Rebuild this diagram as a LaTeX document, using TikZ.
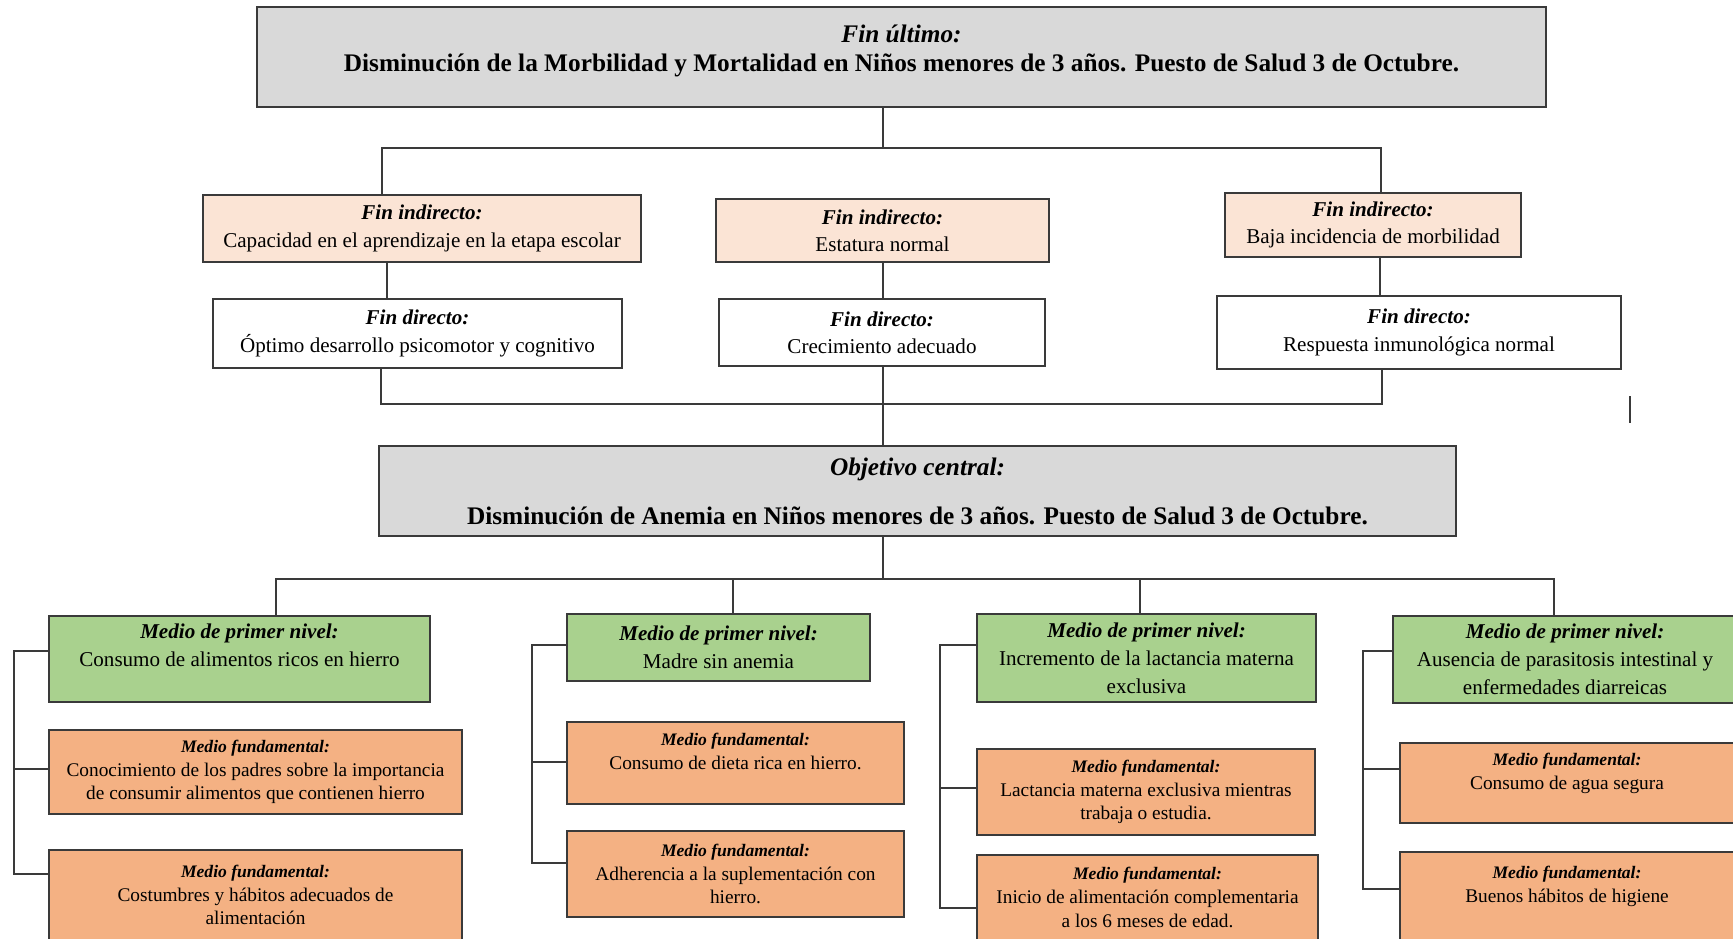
\documentclass[tikz,border=0pt]{standalone}
\usepackage{fontspec}
\setmainfont{Liberation Serif}
\usetikzlibrary{positioning}
\definecolor{gris}{HTML}{D9D9D9}
\definecolor{durazno}{HTML}{FBE4D5}
\definecolor{verde}{HTML}{A9D18E}
\definecolor{naranja}{HTML}{F4B183}
\definecolor{borde}{HTML}{3A3A3A}
\newcommand{\rotulo}[1]{{\bfseries\itshape #1}}
\newcommand{\rotulof}[1]{{\fontsize{10}{12}\selectfont\bfseries\itshape #1}}
\begin{document}
\begin{tikzpicture}[x=0.02cm,y=-0.02cm,
	caja/.style={draw=borde,line width=0.85pt,align=center,inner sep=2pt},
	central/.style={caja,fill=gris,font=\fontsize{14.4}{17}\selectfont},
	indirecto/.style={caja,fill=durazno,font=\fontsize{12}{15.5}\selectfont},
	directo/.style={caja,fill=white,font=\fontsize{12}{15.5}\selectfont},
	primer/.style={caja,fill=verde,font=\fontsize{12}{16}\selectfont},
	fundam/.style={caja,fill=naranja,font=\fontsize{11}{13.5}\selectfont},
	linea/.style={draw=borde,line width=0.8pt}]
	\useasboundingbox (0,0) rectangle (1733,939);
	% fin ultimo
	\node[central,minimum width=25.78cm,minimum height=2cm] (fu) at (901.5,57)
		{\rotulo{Fin último:}\\ \bfseries Disminución de la Morbilidad y Mortalidad en Niños menores de 3 años. Puesto de Salud 3 de Octubre.\\[-7pt]\mbox{}};
	% fines indirectos y directos
	\node[indirecto,minimum width=8.76cm,minimum height=1.34cm] (fiL) at (422,228.5) {\rotulo{Fin indirecto:}\\ Capacidad en el aprendizaje en la etapa escolar};
	\node[indirecto,minimum width=6.66cm,minimum height=1.26cm] (fiM) at (882.5,230.5) {\rotulo{Fin indirecto:}\\ Estatura normal};
	\node[indirecto,minimum width=5.92cm,minimum height=1.28cm] (fiR) at (1373,225) {\rotulo{Fin indirecto:}\\ Baja incidencia de morbilidad};
	\node[directo,minimum width=8.18cm,minimum height=1.38cm] (fdL) at (417.5,333.5) {\rotulo{Fin directo:}\\ Óptimo desarrollo psicomotor y cognitivo};
	\node[directo,minimum width=6.52cm,minimum height=1.34cm] (fdM) at (882,332.5) {\rotulo{Fin directo:}\\ Crecimiento adecuado};
	\node[directo,minimum width=8.08cm,minimum height=1.46cm] (fdR) at (1419,332.5) {\rotulo{Fin directo:}\\ Respuesta inmunológica normal};
	% objetivo central
	\node[central,minimum width=21.54cm,minimum height=1.8cm] (oc) at (917.5,491)
		{\rotulo{Objetivo central:}\\[11pt] \bfseries Disminución de Anemia en Niños menores de 3 años. Puesto de Salud 3 de Octubre.};
	% medios de primer nivel
	\node[primer,minimum width=7.62cm,minimum height=1.72cm] (m1) at (239.5,659) {\rotulo{Medio de primer nivel:}\\ Consumo de alimentos ricos en hierro\\ \mbox{}};
	\node[primer,minimum width=6.06cm,minimum height=1.34cm] (m2) at (718.5,647.5) {\rotulo{Medio de primer nivel:}\\ Madre sin anemia};
	\node[primer,minimum width=6.78cm,minimum height=1.76cm] (m3) at (1146.5,658) {\rotulo{Medio de primer nivel:}\\ Incremento de la lactancia materna\\ exclusiva};
	\node[primer,minimum width=6.88cm,minimum height=1.74cm] (m4) at (1565,659.5) {\rotulo{Medio de primer nivel:}\\ Ausencia de parasitosis intestinal y\\ enfermedades diarreicas};
	% medios fundamentales
	\node[fundam,minimum width=8.26cm,minimum height=1.68cm] (f11) at (255.5,772) {\rotulof{Medio fundamental:}\\ Conocimiento de los padres sobre la importancia\\ de consumir alimentos que contienen hierro};
	\node[fundam,minimum width=8.26cm,minimum height=1.8cm] (f12) at (255.5,895) {\rotulof{Medio fundamental:}\\ Costumbres y hábitos adecuados de\\ alimentación};
	\node[fundam,minimum width=6.74cm,minimum height=1.64cm] (f21) at (735.5,763) {\rotulof{Medio fundamental:}\\ Consumo de dieta rica en hierro.\\ \mbox{}};
	\node[fundam,minimum width=6.74cm,minimum height=1.72cm] (f22) at (735.5,874) {\rotulof{Medio fundamental:}\\ Adherencia a la suplementación con\\ hierro.};
	\node[fundam,minimum width=6.76cm,minimum height=1.72cm] (f31) at (1146,792) {\rotulof{Medio fundamental:}\\ Lactancia materna exclusiva mientras\\ trabaja o estudia.};
	\node[fundam,minimum width=6.82cm,minimum height=1.7cm] (f32) at (1147.5,897.5) {\rotulof{Medio fundamental:}\\ Inicio de alimentación complementaria\\ a los 6 meses de edad.};
	\node[fundam,minimum width=6.68cm,minimum height=1.6cm] (f41) at (1567,783) {\rotulof{Medio fundamental:}\\ Consumo de agua segura\\ \mbox{}};
	\node[fundam,minimum width=6.68cm,minimum height=1.76cm] (f42) at (1567,896) {\rotulof{Medio fundamental:}\\ Buenos hábitos de higiene\\ \mbox{}};
	% conectores de los fines
	\coordinate (a0) at (382,148);
	\coordinate (a1) at (883,148);
	\coordinate (a2) at (1381,148);
	\draw[linea] (fu.south -| a1) -- (a1);
	\draw[linea] (fiL.north -| a0) -- (a0) -- (a2) -- (fiR.north -| a2);
	\coordinate (b0) at (387,280);
	\coordinate (b2) at (1380,280);
	\draw[linea] (fiL.south -| b0) -- (fdL.north -| b0);
	\draw[linea] (fiM.south -| a1) -- (fdM.north -| a1);
	\draw[linea] (fiR.south -| b2) -- (fdR.north -| b2);
	\coordinate (c0) at (381,404);
	\coordinate (c2) at (1382,404);
	\draw[linea] (fdL.south -| c0) -- (c0) -- (c2) -- (fdR.south -| c2);
	\draw[linea] (fdM.south -| a1) -- (oc.north -| a1);
	\coordinate (s0) at (1630,396);
	\coordinate (s1) at (1630,423);
	\draw[linea] (s0) -- (s1);
	% conectores de los medios
	\coordinate (d0) at (276,579);
	\coordinate (d1) at (733,579);
	\coordinate (d2) at (1140,579);
	\coordinate (d3) at (1554,579);
	\draw[linea] (oc.south -| a1) -- (a1 |- d0);
	\draw[linea] (m1.north -| d0) -- (d0) -- (d3) -- (m4.north -| d3);
	\draw[linea] (d1) -- (m2.north -| d1);
	\draw[linea] (d2) -- (m3.north -| d2);
	% llaves laterales
	\coordinate (e1) at (14,0);
	\coordinate (e2) at (532,0);
	\coordinate (e3) at (940,0);
	\coordinate (e4) at (1363,0);
	\draw[linea] (m1.west |- 0,651) -- (e1 |- 0,651) -- (e1 |- 0,874) -- (f12.west |- 0,874);
	\draw[linea] (e1 |- 0,769) -- (f11.west |- 0,769);
	\draw[linea] (m2.west |- 0,645) -- (e2 |- 0,645) -- (e2 |- 0,863) -- (f22.west |- 0,863);
	\draw[linea] (e2 |- 0,762) -- (f21.west |- 0,762);
	\draw[linea] (m3.west |- 0,645) -- (e3 |- 0,645) -- (e3 |- 0,908) -- (f32.west |- 0,908);
	\draw[linea] (e3 |- 0,788) -- (f31.west |- 0,788);
	\draw[linea] (m4.west |- 0,651) -- (e4 |- 0,651) -- (e4 |- 0,889) -- (f42.west |- 0,889);
	\draw[linea] (e4 |- 0,769) -- (f41.west |- 0,769);
\end{tikzpicture}
\end{document}
